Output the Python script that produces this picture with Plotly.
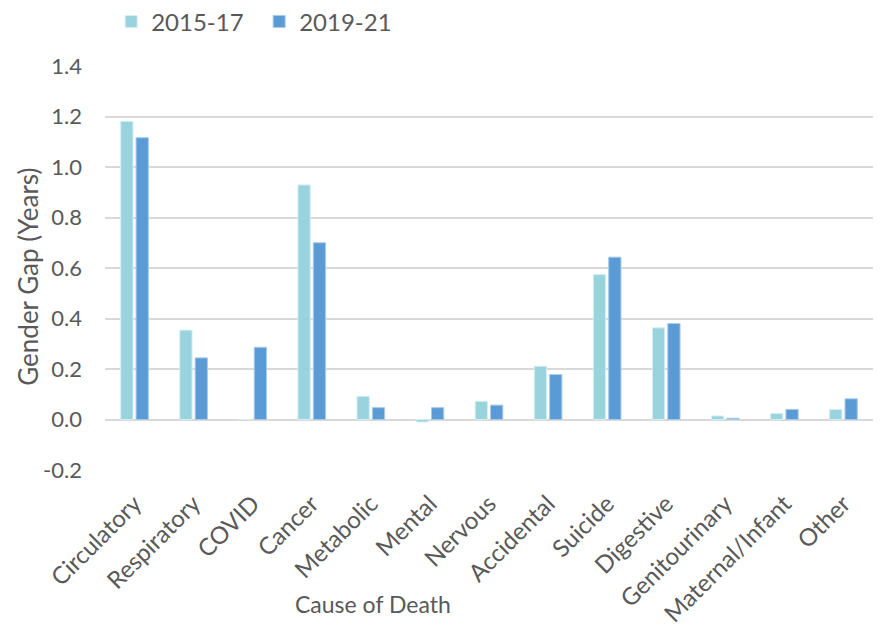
import plotly.graph_objects as go

categories = ["Circulatory", "Respiratory", "COVID", "Cancer", "Metabolic", "Mental",
              "Nervous", "Accidental", "Suicide", "Digestive", "Genitourinary",
              "Maternal/Infant", "Other"]
gap_2015_17 = [1.181, 0.354, 0.0, 0.929, 0.092, -0.010, 0.072, 0.211, 0.574, 0.363, 0.014, 0.024, 0.040]
gap_2019_21 = [1.116, 0.244, 0.286, 0.700, 0.047, 0.047, 0.057, 0.178, 0.643, 0.380, 0.005, 0.040, 0.082]
y_ticks = [-0.2, 0.0, 0.2, 0.4, 0.6, 0.8, 1.0, 1.2, 1.4]
y_tick_labels = ["-0.2", "0.0", "0.2", "0.4", "0.6", "0.8", "1.0", "1.2", "1.4"]

FONT = "Lato"
TXT = "#595959"

fig = go.Figure()
fig.add_trace(go.Bar(name="2015-17", x=categories, y=gap_2015_17,
                     marker=dict(color="#98D3DE", line=dict(color="#D6EEF3", width=1))))
fig.add_trace(go.Bar(name="2019-21", x=categories, y=gap_2019_21,
                     marker=dict(color="#5B9BD5", line=dict(color="#A9CBEA", width=1))))

fig.update_layout(
    width=883, height=628,
    margin=dict(l=105, r=10, t=66, b=157.5, autoexpand=False),
    paper_bgcolor="white", plot_bgcolor="white",
    barmode="group", bargap=0.48, bargroupgap=0.2,
    font=dict(family=FONT, color=TXT, size=22),
    legend=dict(orientation="h", x=0.008, xanchor="left", y=1.165, yanchor="top",
                font=dict(size=24, color=TXT), itemwidth=30, traceorder="normal",
                entrywidth=103, entrywidthmode="pixels"),
    xaxis=dict(tickangle=-45, showgrid=False, showline=False, ticks="",
               tickfont=dict(size=24, color=TXT), ticklabelstandoff=14),
    yaxis=dict(range=[-0.2, 1.4], tickvals=y_ticks, ticktext=y_tick_labels,
               showgrid=True, gridcolor="#D9D9D9", gridwidth=1.5,
               zeroline=True, zerolinecolor="#D9D9D9", zerolinewidth=1.5,
               showline=False, ticks="", ticklabelstandoff=22,
               tickfont=dict(size=22, color=TXT)),
    annotations=[
        dict(text="Cause of Death", xref="paper", yref="paper",
             x=(373 - 105) / 768, y=-(605 - 470.5) / 404.5, xanchor="center", yanchor="middle",
             showarrow=False, font=dict(size=23, color=TXT)),
        dict(text="Gender Gap (Years)", xref="paper", yref="paper",
             x=-(105 - 28) / 768, y=(470.5 - 277) / 404.5, xanchor="center", yanchor="middle",
             textangle=-90, showarrow=False, font=dict(size=26, color=TXT)),
    ],
)

fig.write_html("out.html")
